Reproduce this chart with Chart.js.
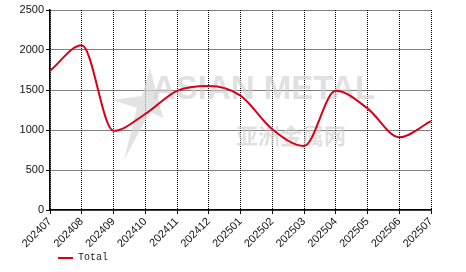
<!DOCTYPE html>
<html lang="en">
<head>
    <meta charset="UTF-8"/>
    <title>Total</title>
    <script src="https://cdn.jsdelivr.net/npm/chart.js"></script>
    <style>
        html, body {
            margin: 0;
            padding: 0;
            background: #fff;
            width: 466px;
            height: 272px;
            overflow: hidden;
        }
        .wrap {
            position: relative;
            width: 466px;
            height: 272px;
        }
        .legend {
            position: absolute;
            left: 58px;
            top: 252px;
            font-family: 'Liberation Mono', monospace;
            font-size: 10px;
            color: #222;
            display: flex;
            align-items: center;
        }
        .legend .swatch {
            width: 15px;
            height: 2px;
            background: #d7001d;
            margin-right: 5px;
        }
    </style>
</head>
<body>
<div class="wrap">
    <canvas id="chart" width="466" height="272"></canvas>
    <div class="legend"><span class="swatch"></span>Total</div>
</div>
<script>
    const months = ['202407', '202408', '202409', '202410', '202411', '202412', '202501',
                    '202502', '202503', '202504', '202505', '202506', '202507'];
    const totalValues = [1740, 2060, 990, 1200, 1490, 1550, 1430, 1010, 800, 1490, 1270, 910, 1110];
    const yTicks = [0, 500, 1000, 1500, 2000, 2500];

    // faint site watermark behind the line
    const watermark = {
        id: 'watermark',
        beforeDatasetsDraw(chart) {
            const ctx = chart.ctx;
            ctx.save();
            // rough star logo
            ctx.fillStyle = 'rgba(215,215,215,0.7)';
            ctx.beginPath();
            ctx.moveTo(150, 68);
            ctx.lineTo(163, 118);
            ctx.lineTo(150, 112);
            ctx.lineTo(124, 160);
            ctx.lineTo(137, 108);
            ctx.lineTo(112, 100);
            ctx.lineTo(142, 96);
            ctx.closePath();
            ctx.fill();
            ctx.fillStyle = 'rgba(205,205,205,0.6)';
            ctx.font = 'bold 33px "Liberation Sans", Arial, sans-serif';
            ctx.textBaseline = 'middle';
            ctx.fillText('ASIAN METAL', 152, 90);
            ctx.font = 'bold 22px "Noto Sans CJK SC", sans-serif';
            ctx.fillText('亚洲金属网', 236, 136);
            ctx.restore();
        }
    };

    const tickFont = { family: '"Liberation Sans", Arial, sans-serif', size: 11 };

    new Chart(document.getElementById('chart').getContext('2d'), {
        type: 'line',
        data: {
            labels: months,
            datasets: [{
                label: 'Total',
                data: totalValues,
                borderColor: '#d7001d',
                borderWidth: 2,
                pointRadius: 0,
                fill: false,
                cubicInterpolationMode: 'monotone'
            }]
        },
        options: {
            responsive: false,
            animation: false,
            layout: { padding: { top: 10, right: 35, left: 0, bottom: 0 } },
            plugins: {
                legend: { display: false },
                tooltip: { enabled: false }
            },
            scales: {
                x: {
                    offset: false,
                    grid: {
                        color: '#000',
                        tickLength: 4,
                        tickColor: '#000',
                        tickBorderDash: []
                    },
                    border: { display: true, color: '#000', width: 1.5, dash: [1, 1] },
                    ticks: {
                        color: '#111',
                        font: tickFont,
                        minRotation: 45,
                        maxRotation: 45,
                        padding: 1,
                        autoSkip: false
                    },
                    afterFit(scale) { scale.height = 62; }
                },
                y: {
                    min: 0,
                    max: 2500,
                    afterBuildTicks(scale) { scale.ticks = yTicks.map(v => ({ value: v })); },
                    grid: {
                        color: '#000',
                        tickLength: 4,
                        tickColor: '#000',
                        tickBorderDash: []
                    },
                    border: { display: true, color: '#000', width: 1.5, dash: [1, 1] },
                    ticks: {
                        color: '#111',
                        font: tickFont,
                        padding: 2,
                        callback: value => String(value)
                    },
                    afterFit(scale) { scale.width = 50; }
                }
            }
        },
        plugins: [watermark]
    });
</script>
</body>
</html>
